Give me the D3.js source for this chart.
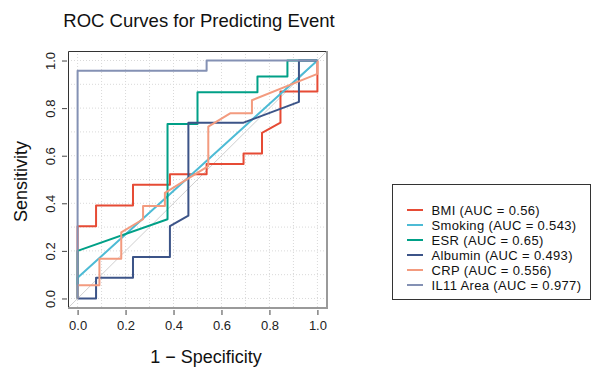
<!DOCTYPE html>
<html>
<head>
<meta charset="utf-8">
<script src="https://cdn.jsdelivr.net/npm/d3@7"></script>
<style>
  html, body { margin: 0; padding: 0; background: #fff; }
  svg { display: block; font-family: "Liberation Sans", Arial, sans-serif; }
</style>
</head>
<body>
<div id="chart"></div>
<script>
// series names and AUC labels
const seriesNames = ['BMI', 'Smoking', 'ESR', 'Albumin', 'CRP', 'IL11 Area']
const aucValues = ['0.56', '0.543', '0.65', '0.493', '0.556', '0.977']
const seriesColors = ['#E64B35', '#4DBBD5', '#00A087', '#3C5488', '#F39B7F', '#8491B4']

// ROC points (x = 1 - specificity, y = sensitivity)
const bmiFpr = [0, 0, 0.077, 0.077, 0.231, 0.231, 0.385, 0.385, 0.538, 0.538, 0.692, 0.692, 0.769, 0.769, 0.846, 0.846, 1, 1]
const bmiTpr = [0, 0.304, 0.304, 0.391, 0.391, 0.478, 0.478, 0.522, 0.522, 0.565, 0.565, 0.609, 0.609, 0.696, 0.739, 0.87, 0.87, 1]

const smokingFpr = [0, 0, 1]
const smokingTpr = [0, 0.087, 1]

const esrFpr = [0, 0, 0.375, 0.375, 0.5, 0.5, 0.75, 0.75, 0.875, 0.875, 1]
const esrTpr = [0, 0.2, 0.333, 0.733, 0.733, 0.867, 0.867, 0.933, 0.933, 1, 1]

const albuminFpr = [0, 0.077, 0.077, 0.231, 0.231, 0.385, 0.385, 0.462, 0.462, 0.692, 0.923, 0.923, 1]
const albuminTpr = [0, 0, 0.087, 0.087, 0.174, 0.174, 0.304, 0.348, 0.739, 0.739, 0.826, 1, 1]

const crpFpr = [0, 0, 0.091, 0.091, 0.182, 0.182, 0.273, 0.273, 0.364, 0.364, 0.545, 0.545, 0.636, 0.727, 0.727, 1, 1]
const crpTpr = [0, 0.056, 0.056, 0.167, 0.167, 0.278, 0.333, 0.389, 0.389, 0.444, 0.556, 0.722, 0.778, 0.778, 0.833, 0.944, 1]

const il11Fpr = [0, 0, 0.538, 0.538, 1]
const il11Tpr = [0, 0.957, 0.957, 1, 1]

const tickValues = [0, 0.2, 0.4, 0.6, 0.8, 1]
const gridValues = [0, 0.1, 0.2, 0.3, 0.4, 0.5, 0.6, 0.7, 0.8, 0.9, 1]

const curves = [
  [bmiFpr, bmiTpr],
  [smokingFpr, smokingTpr],
  [esrFpr, esrTpr],
  [albuminFpr, albuminTpr],
  [crpFpr, crpTpr],
  [il11Fpr, il11Tpr],
].map(([fx, ty], i) => ({
  name: seriesNames[i],
  auc: aucValues[i],
  color: seriesColors[i],
  points: fx.map((f, j) => ({ x: f, y: ty[j] })),
}))

const width = 593
const height = 370

// plot box
const box = { left: 68, top: 51, right: 327, bottom: 308 }

const svg = d3.create('svg')
  .attr('width', width)
  .attr('height', height)
  .attr('viewBox', [0, 0, width, height])

const xScale = d3.scaleLinear().domain([-0.04, 1.04]).range([box.left, box.right])
const yScale = d3.scaleLinear().domain([-0.04, 1.04]).range([box.bottom, box.top])

// title
svg.append('text')
  .attr('x', 199)
  .attr('y', 27)
  .attr('text-anchor', 'middle')
  .attr('font-size', 18.5)
  .attr('fill', '#111')
  .text('ROC Curves for Predicting Event')

// dotted grid
const grid = svg.append('g').attr('class', 'grid')
grid.selectAll('line.gx')
  .data(gridValues)
  .join('line')
  .attr('class', 'gx')
  .attr('x1', d => xScale(d)).attr('x2', d => xScale(d))
  .attr('y1', box.top).attr('y2', box.bottom)
grid.selectAll('line.gy')
  .data(gridValues)
  .join('line')
  .attr('class', 'gy')
  .attr('y1', d => yScale(d)).attr('y2', d => yScale(d))
  .attr('x1', box.left).attr('x2', box.right)
grid.selectAll('line')
  .attr('stroke', '#d9d9d9')
  .attr('stroke-width', 1)
  .attr('stroke-dasharray', '1,2')

// reference diagonal clipped to the box
svg.append('line')
  .attr('x1', xScale(-0.04)).attr('y1', yScale(-0.04))
  .attr('x2', xScale(1.04)).attr('y2', yScale(1.04))
  .attr('stroke', '#cfcfcf')
  .attr('stroke-width', 1)

// curves
const line = d3.line().x(d => xScale(d.x)).y(d => yScale(d.y))
svg.append('g')
  .selectAll('path')
  .data(curves)
  .join('path')
  .attr('d', d => line(d.points))
  .attr('fill', 'none')
  .attr('stroke', d => d.color)
  .attr('stroke-width', 2)
  .attr('stroke-linejoin', 'round')

// box: dark top/left, grey shadow right/bottom
svg.append('path')
  .attr('d', `M${box.left + 0.5},${box.bottom}V${box.top + 0.5}H${box.right}`)
  .attr('fill', 'none').attr('stroke', '#333').attr('stroke-width', 1)
svg.append('path')
  .attr('d', `M${box.left},${box.bottom}H${box.right}V${box.top}`)
  .attr('fill', 'none').attr('stroke', '#9a9a9a').attr('stroke-width', 2)

// x axis
const xAxis = svg.append('g')
  .attr('transform', `translate(0, ${box.bottom + 2})`)
  .call(d3.axisBottom(xScale).tickValues(tickValues).tickFormat(d3.format('.1f')).tickSize(5).tickPadding(6))
xAxis.select('.domain').remove()
xAxis.selectAll('line').attr('stroke', '#444')
xAxis.selectAll('text').attr('font-size', 13).attr('fill', '#222').attr('font-family', null)

// y axis, labels parallel to the axis
const yAxis = svg.append('g')
  .attr('transform', `translate(${box.left - 1}, 0)`)
  .call(d3.axisLeft(yScale).tickValues(tickValues).tickFormat(d3.format('.1f')).tickSize(5))
yAxis.select('.domain').remove()
yAxis.selectAll('line').attr('stroke', '#444')
yAxis.selectAll('text')
  .attr('x', null).attr('dy', null)
  .attr('text-anchor', 'middle')
  .attr('transform', 'translate(-12, 0) rotate(-90)')
  .attr('font-size', 13).attr('fill', '#222').attr('font-family', null)

// axis titles
svg.append('text')
  .attr('x', 206)
  .attr('y', 363)
  .attr('text-anchor', 'middle')
  .attr('font-size', 18)
  .attr('fill', '#111')
  .text('1 \u2212 Specificity')

svg.append('text')
  .attr('transform', `translate(27, ${(box.top + box.bottom) / 2 + 2}) rotate(-90)`)
  .attr('text-anchor', 'middle')
  .attr('font-size', 18)
  .attr('fill', '#111')
  .text('Sensitivity')

// legend
const legend = svg.append('g').attr('class', 'legend')
legend.append('rect')
  .attr('x', 392.5).attr('y', 184.5)
  .attr('width', 198).attr('height', 115)
  .attr('fill', '#fff').attr('stroke', '#333').attr('stroke-width', 1)

const rows = legend.selectAll('g.row')
  .data(curves)
  .join('g')
  .attr('class', 'row')
  .attr('transform', (d, i) => `translate(0, ${210 + i * 15})`)
rows.append('line')
  .attr('x1', 407).attr('x2', 423)
  .attr('stroke', d => d.color)
  .attr('stroke-width', 2)
rows.append('text')
  .attr('x', 431.5)
  .attr('dy', '0.36em')
  .attr('font-size', 13)
  .attr('letter-spacing', 0.35)
  .attr('fill', '#111')
  .text(d => `${d.name} (AUC = ${d.auc})`)

document.getElementById('chart').appendChild(svg.node())
</script>
</body>
</html>
